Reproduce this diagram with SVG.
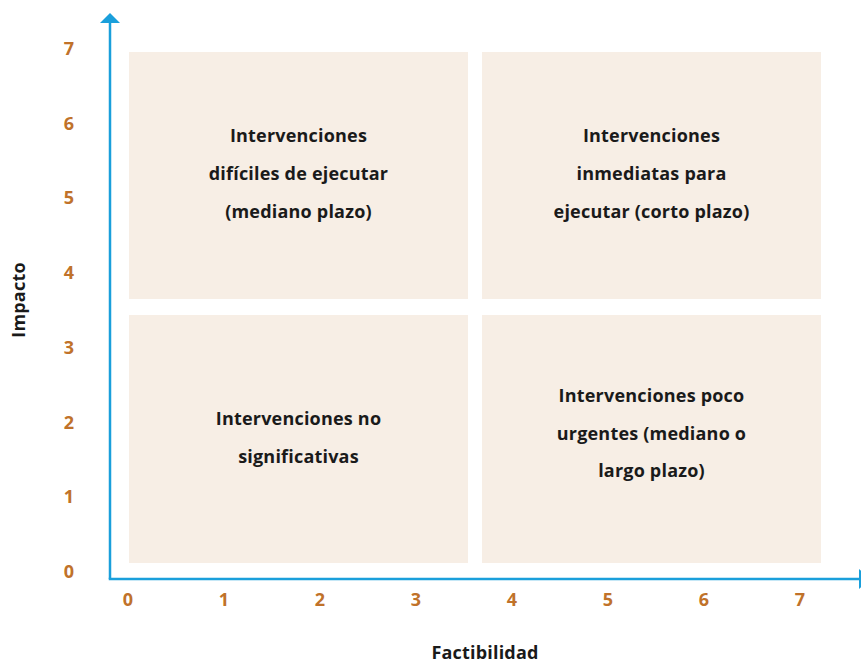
<svg xmlns="http://www.w3.org/2000/svg" width="861" height="664" viewBox="0 0 861 664">
<style>
.box{fill:#F7EEE5}
.t{font-family:"Open Sans","Noto Sans",sans-serif;font-weight:700;font-size:18px;fill:#1a1a1a;text-anchor:middle;letter-spacing:0.2px}
.n{font-family:"Open Sans","Noto Sans",sans-serif;font-weight:700;font-size:18px;fill:#C0722A;text-anchor:middle}
.ax{stroke:#1A9FDB;stroke-width:2.5;fill:none}
.ah{fill:#1A9FDB}
</style>
<rect width="861" height="664" fill="#ffffff"/>
<g id="q-top-left">
<rect class="box" x="129" y="52" width="339" height="247"/>
<text class="t" x="298.5" y="142">Intervenciones</text>
<text class="t" x="298.5" y="180">difíciles de ejecutar</text>
<text class="t" x="298.5" y="218">(mediano plazo)</text>
</g>
<g id="q-top-right">
<rect class="box" x="482" y="52" width="339" height="247"/>
<text class="t" x="651.5" y="142">Intervenciones</text>
<text class="t" x="651.5" y="180">inmediatas para</text>
<text class="t" x="651.5" y="218">ejecutar (corto plazo)</text>
</g>
<g id="q-bottom-left">
<rect class="box" x="129" y="315" width="339" height="248"/>
<text class="t" x="298.5" y="425">Intervenciones no</text>
<text class="t" x="298.5" y="463">significativas</text>
</g>
<g id="q-bottom-right">
<rect class="box" x="482" y="315" width="339" height="248"/>
<text class="t" x="651.5" y="402">Intervenciones poco</text>
<text class="t" x="651.5" y="440">urgentes (mediano o</text>
<text class="t" x="651.5" y="477">largo plazo)</text>
</g>
<g id="axes">
<line class="ax" x1="110" y1="22" x2="110" y2="579"/>
<polygon class="ah" points="110,13 100,23 120,23"/>
<line class="ax" x1="108.75" y1="579" x2="860" y2="579"/>
<polygon class="ah" points="870,579 859,569 859,589"/>
</g>
<g id="y-labels">
<text class="n" x="69" y="55">7</text>
<text class="n" x="69" y="129.7">6</text>
<text class="n" x="69" y="204.4">5</text>
<text class="n" x="69" y="279.1">4</text>
<text class="n" x="69" y="353.8">3</text>
<text class="n" x="69" y="428.5">2</text>
<text class="n" x="69" y="503.2">1</text>
<text class="n" x="69" y="578">0</text>
</g>
<g id="x-labels">
<text class="n" x="128" y="606">0</text>
<text class="n" x="224" y="606">1</text>
<text class="n" x="320" y="606">2</text>
<text class="n" x="416" y="606">3</text>
<text class="n" x="512" y="606">4</text>
<text class="n" x="608" y="606">5</text>
<text class="n" x="704" y="606">6</text>
<text class="n" x="800" y="606">7</text>
</g>
<g id="axis-titles">
<text class="t" transform="translate(25,300) rotate(-90)">Impacto</text>
<text class="t" x="485" y="659">Factibilidad</text>
</g>
</svg>
